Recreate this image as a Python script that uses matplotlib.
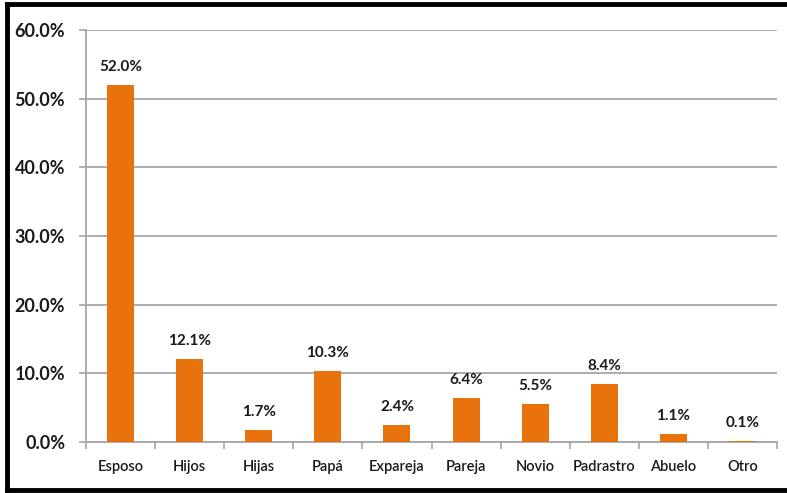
import matplotlib
matplotlib.use("Agg")
import matplotlib.pyplot as plt
from matplotlib.lines import Line2D
from matplotlib.ticker import FixedLocator, FuncFormatter

categories = ["Esposo", "Hijos", "Hijas", "Papá", "Expareja", "Pareja",
              "Novio", "Padrastro", "Abuelo", "Otro"]
values = [52.0, 12.1, 1.7, 10.3, 2.4, 6.4, 5.5, 8.4, 1.1, 0.1]
y_ticks = [0, 10, 20, 30, 40, 50, 60]

plt.rcParams["font.family"] = ["Lato", "DejaVu Sans"]

fig = plt.figure(figsize=(7.87, 4.93), dpi=100)
ax = fig.add_axes([0.1093, 0.104, 0.8780, 0.835])

bar_color = "#E8720C"
grid_color = "#A6A6A6"

x = list(range(len(categories)))
bars = ax.bar(x, values, width=0.39, color=bar_color, zorder=3)

for xi, v in zip(x, values):
    ax.annotate(f"{v:.1f}%", (xi, v), xytext=(0, 8), textcoords="offset points",
                ha="center", va="bottom", fontsize=11, fontweight="bold",
                color="#1a1a1a")

ax.set_xlim(-0.5, len(categories) - 0.5)
ax.set_ylim(0, 60)
ax.yaxis.set_major_locator(FixedLocator(y_ticks))
ax.yaxis.set_major_formatter(FuncFormatter(lambda v, p: f"{v:.1f}%"))
ax.grid(axis="y", color=grid_color, linewidth=1.3, zorder=0)

# category labels centred under bars, tick marks between categories
ax.set_xticks(x)
ax.set_xticklabels(categories, fontsize=10.5, fontweight="semibold",
                   color="#1a1a1a")
ax.tick_params(axis="x", length=0, pad=13)
ax.set_xticks([i - 0.5 for i in range(len(categories) + 1)], minor=True)
ax.tick_params(axis="x", which="minor", length=5, width=1.2, color=grid_color)

ax.tick_params(axis="y", length=5, width=1.2, color=grid_color, pad=10,
               labelsize=13)
for lbl in ax.get_yticklabels():
    lbl.set_fontweight("bold")
    lbl.set_color("#1a1a1a")

for side in ["top", "right"]:
    ax.spines[side].set_visible(False)
for side in ["left", "bottom"]:
    ax.spines[side].set_color(grid_color)
    ax.spines[side].set_linewidth(1.3)

# outer frame
W, H = 787, 493
frame_kw = dict(color="black", linewidth=3.5, transform=fig.transFigure)
fig.add_artist(Line2D([7 / W, 7 / W], [1 - 4 / H, 1 - 490 / H], **frame_kw))
fig.add_artist(Line2D([7 / W, 1.0], [1 - 4 / H, 1 - 4 / H], **frame_kw))
fig.add_artist(Line2D([7 / W, 1.0], [1 - 490 / H, 1 - 490 / H], **frame_kw))

fig.savefig("out.png", dpi=100, facecolor="white")
